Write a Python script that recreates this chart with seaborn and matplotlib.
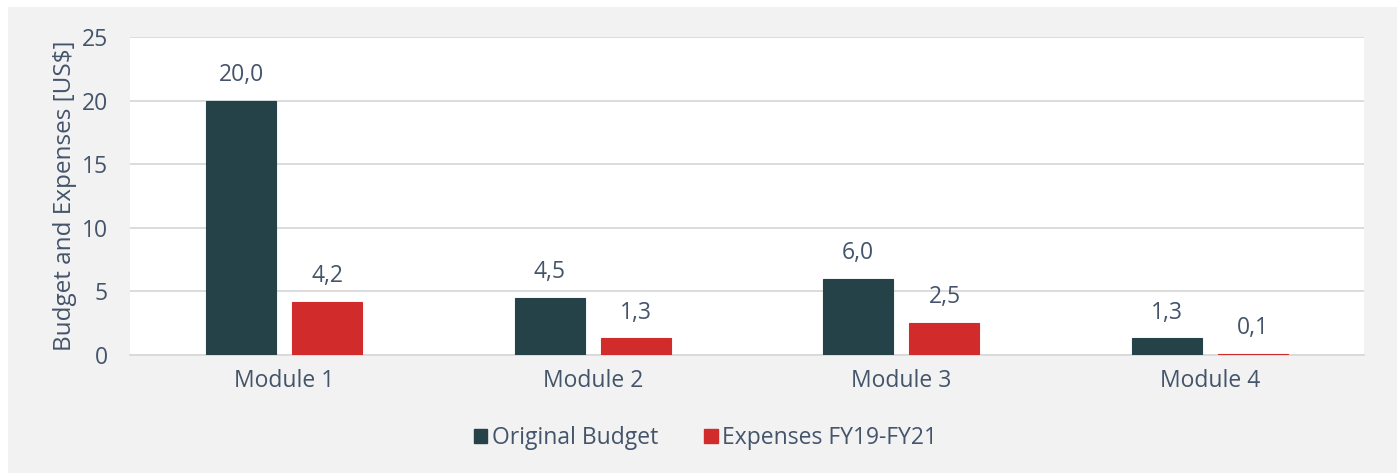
import matplotlib
matplotlib.use("Agg")
import matplotlib.pyplot as plt
import matplotlib.patches as mpatches
import pandas as pd
import seaborn as sns

# data
modules = ["Module 1", "Module 2", "Module 3", "Module 4"]
budget = [20.0, 4.5, 6.0, 1.3]
expenses = [4.2, 1.3, 2.5, 0.1]
series = ["Original Budget", "Expenses FY19-FY21"]
y_ticks = [0, 5, 10, 15, 20, 25]

df = pd.DataFrame({
    "Module": modules * 2,
    "Series": [series[0]] * 4 + [series[1]] * 4,
    "Value": budget + expenses,
})

sns.set_style("white")
plt.rcParams["font.family"] = ["Open Sans", "DejaVu Sans"]

txt = "#44546A"
colors = ["#264249", "#D12B2B"]
fs = 16.5

fig = plt.figure(figsize=(13.97, 4.73), dpi=100, facecolor="white")
# grey chart area with a thin white margin at top and left
fig.patches.append(mpatches.Rectangle((8 / 1397, 0), 1, 466 / 473, transform=fig.transFigure,
                                      facecolor="#F2F2F2", edgecolor="none", zorder=-10))
ax = fig.add_axes([130 / 1397, 1 - 355 / 473, 1234 / 1397, 318 / 473])
ax.set_facecolor("white")

sns.barplot(data=df, x="Module", y="Value", hue="Series", palette=colors,
            width=0.56, gap=0.19, ax=ax, legend=False, saturation=1)

for cont in ax.containers:
    for bar in cont:
        bar.set_zorder(3)
        bar.set_edgecolor(bar.get_facecolor())
        bar.set_linewidth(0.8)
    ax.bar_label(cont, labels=[f"{v:.1f}".replace(".", ",") for v in cont.datavalues],
                 padding=10, fontsize=fs, color=txt)

ax.set_ylim(0, 25)
ax.set_xlim(-0.5, 3.5)
ax.set_yticks(y_ticks)
ax.yaxis.grid(True, color="#D9D9D9", linewidth=1.3)
ax.set_axisbelow(True)
for s in ["top", "right", "left"]:
    ax.spines[s].set_visible(False)
ax.spines["bottom"].set_color("#D9D9D9")
ax.spines["bottom"].set_linewidth(1.3)
ax.tick_params(axis="both", length=0, labelsize=fs, labelcolor=txt)
ax.tick_params(axis="y", pad=16)
ax.tick_params(axis="x", pad=10)
ax.set_xlabel("")
ax.set_ylabel("Budget and Expenses [US$]", fontsize=17.5, color=txt, labelpad=3)

handles = [mpatches.Patch(color=c, label=l) for c, l in zip(colors, series)]
fig.legend(handles=handles, loc="center", bbox_to_anchor=(0.505, 1 - 438 / 473), ncol=2,
           frameon=False, fontsize=fs, labelcolor=txt, handlelength=0.6, handleheight=0.6,
           handletextpad=0.2, columnspacing=2.0)

fig.savefig("out.png", dpi=100, facecolor=fig.get_facecolor())
